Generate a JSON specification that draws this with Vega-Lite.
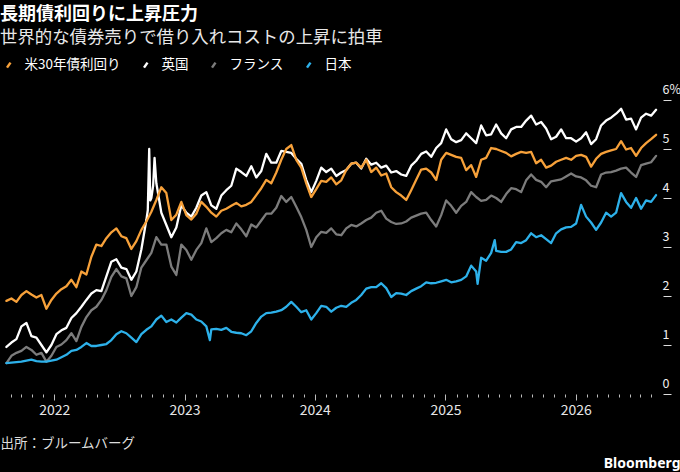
{
  "$schema": "https://vega.github.io/schema/vega-lite/v6.json",
  "width": 660,
  "height": 294,
  "autosize": {"type": "none"},
  "padding": {"left": 0, "top": 100, "right": 20, "bottom": 78},
  "background": "#000000",
  "config": {
    "view": {"stroke": null},
    "font": "Noto Sans CJK JP"
  },
  "title": {
    "text": "長期債利回りに上昇圧力",
    "subtitle": "世界的な債券売りで借り入れコストの上昇に拍車",
    "anchor": "start",
    "frame": "group",
    "font": "Noto Sans CJK JP",
    "fontSize": 18,
    "fontWeight": "bold",
    "color": "#ffffff",
    "subtitleFont": "Noto Sans CJK JP",
    "subtitleFontSize": 17.4,
    "subtitleColor": "#e8e8e8",
    "subtitlePadding": 5,
    "offset": 12
  },
  "data": {
    "values": [
      {"d": "2021-08-20", "us": 1.90, "uk": 0.96, "fr": 0.63, "jp": 0.63},
      {"d": "2021-09-03", "us": 1.95, "uk": 1.05, "fr": 0.78, "jp": 0.64},
      {"d": "2021-09-17", "us": 1.88, "uk": 1.12, "fr": 0.84, "jp": 0.65},
      {"d": "2021-10-01", "us": 2.02, "uk": 1.38, "fr": 0.88, "jp": 0.66},
      {"d": "2021-10-15", "us": 2.10, "uk": 1.45, "fr": 0.96, "jp": 0.68},
      {"d": "2021-10-29", "us": 2.03, "uk": 1.18, "fr": 0.90, "jp": 0.70},
      {"d": "2021-11-12", "us": 1.97, "uk": 1.15, "fr": 0.80, "jp": 0.67},
      {"d": "2021-11-26", "us": 2.02, "uk": 1.00, "fr": 0.84, "jp": 0.66},
      {"d": "2021-12-10", "us": 1.74, "uk": 0.85, "fr": 0.66, "jp": 0.66},
      {"d": "2021-12-24", "us": 1.92, "uk": 1.00, "fr": 0.78, "jp": 0.68},
      {"d": "2022-01-07", "us": 2.05, "uk": 1.22, "fr": 0.96, "jp": 0.70},
      {"d": "2022-01-21", "us": 2.14, "uk": 1.30, "fr": 1.01, "jp": 0.75},
      {"d": "2022-02-04", "us": 2.20, "uk": 1.35, "fr": 1.10, "jp": 0.80},
      {"d": "2022-02-18", "us": 2.33, "uk": 1.55, "fr": 1.24, "jp": 0.88},
      {"d": "2022-03-04", "us": 2.18, "uk": 1.65, "fr": 1.08, "jp": 0.90},
      {"d": "2022-03-18", "us": 2.50, "uk": 1.78, "fr": 1.37, "jp": 0.96},
      {"d": "2022-04-01", "us": 2.44, "uk": 1.92, "fr": 1.57, "jp": 1.04},
      {"d": "2022-04-15", "us": 2.80, "uk": 2.05, "fr": 1.71, "jp": 0.98},
      {"d": "2022-04-29", "us": 3.05, "uk": 2.12, "fr": 1.78, "jp": 0.98},
      {"d": "2022-05-13", "us": 3.02, "uk": 2.10, "fr": 1.92, "jp": 1.00},
      {"d": "2022-05-27", "us": 3.18, "uk": 2.40, "fr": 2.12, "jp": 1.02},
      {"d": "2022-06-10", "us": 3.30, "uk": 2.70, "fr": 2.39, "jp": 1.10},
      {"d": "2022-06-24", "us": 3.38, "uk": 2.75, "fr": 2.55, "jp": 1.22},
      {"d": "2022-07-08", "us": 3.22, "uk": 2.58, "fr": 2.40, "jp": 1.28},
      {"d": "2022-07-22", "us": 3.18, "uk": 2.55, "fr": 2.36, "jp": 1.24},
      {"d": "2022-08-05", "us": 2.96, "uk": 2.33, "fr": 2.00, "jp": 1.15},
      {"d": "2022-08-19", "us": 3.12, "uk": 2.50, "fr": 2.18, "jp": 1.06},
      {"d": "2022-09-02", "us": 3.35, "uk": 2.95, "fr": 2.58, "jp": 1.22},
      {"d": "2022-09-16", "us": 3.52, "uk": 3.55, "fr": 2.73, "jp": 1.31},
      {"d": "2022-09-20", "uk": 3.75},
      {"d": "2022-09-24", "uk": 5.00},
      {"d": "2022-09-27", "uk": 3.95},
      {"d": "2022-09-30", "us": 3.72, "uk": 4.00, "fr": 2.88, "jp": 1.38},
      {"d": "2022-10-05", "uk": 4.25},
      {"d": "2022-10-09", "uk": 4.82},
      {"d": "2022-10-14", "us": 3.96, "uk": 4.30, "fr": 3.20, "jp": 1.52},
      {"d": "2022-10-28", "us": 4.22, "uk": 3.70, "fr": 3.05, "jp": 1.60},
      {"d": "2022-11-11", "us": 4.10, "uk": 3.45, "fr": 3.05, "jp": 1.47},
      {"d": "2022-11-25", "us": 3.55, "uk": 3.20, "fr": 2.60, "jp": 1.52},
      {"d": "2022-12-09", "us": 3.66, "uk": 3.40, "fr": 2.43, "jp": 1.46},
      {"d": "2022-12-23", "us": 3.92, "uk": 3.85, "fr": 3.05, "jp": 1.56},
      {"d": "2023-01-06", "us": 3.65, "uk": 3.70, "fr": 2.94, "jp": 1.65},
      {"d": "2023-01-20", "us": 3.56, "uk": 3.62, "fr": 2.74, "jp": 1.62},
      {"d": "2023-02-03", "us": 3.68, "uk": 3.80, "fr": 2.94, "jp": 1.52},
      {"d": "2023-02-17", "us": 3.92, "uk": 4.05, "fr": 3.08, "jp": 1.48},
      {"d": "2023-03-03", "us": 3.82, "uk": 4.12, "fr": 3.38, "jp": 1.38},
      {"d": "2023-03-13", "jp": 1.10},
      {"d": "2023-03-17", "us": 3.70, "uk": 3.85, "fr": 3.10, "jp": 1.32},
      {"d": "2023-03-31", "us": 3.62, "uk": 3.78, "fr": 3.18, "jp": 1.33},
      {"d": "2023-04-14", "us": 3.74, "uk": 4.05, "fr": 3.28, "jp": 1.31},
      {"d": "2023-04-28", "us": 3.78, "uk": 4.16, "fr": 3.35, "jp": 1.35},
      {"d": "2023-05-12", "us": 3.84, "uk": 4.25, "fr": 3.30, "jp": 1.27},
      {"d": "2023-05-26", "us": 3.90, "uk": 4.60, "fr": 3.48, "jp": 1.25},
      {"d": "2023-06-09", "us": 3.83, "uk": 4.53, "fr": 3.36, "jp": 1.24},
      {"d": "2023-06-23", "us": 3.86, "uk": 4.45, "fr": 3.22, "jp": 1.20},
      {"d": "2023-07-07", "us": 3.92, "uk": 4.65, "fr": 3.46, "jp": 1.28},
      {"d": "2023-07-21", "us": 4.06, "uk": 4.42, "fr": 3.40, "jp": 1.45},
      {"d": "2023-08-04", "us": 4.20, "uk": 4.55, "fr": 3.54, "jp": 1.58},
      {"d": "2023-08-18", "us": 4.37, "uk": 4.90, "fr": 3.68, "jp": 1.65},
      {"d": "2023-09-01", "us": 4.30, "uk": 4.72, "fr": 3.68, "jp": 1.66},
      {"d": "2023-09-15", "us": 4.52, "uk": 4.72, "fr": 3.80, "jp": 1.68},
      {"d": "2023-09-29", "us": 4.78, "uk": 4.96, "fr": 4.04, "jp": 1.71},
      {"d": "2023-10-13", "us": 5.00, "uk": 4.94, "fr": 3.92, "jp": 1.78},
      {"d": "2023-10-27", "us": 5.08, "uk": 4.92, "fr": 4.02, "jp": 1.88},
      {"d": "2023-11-10", "us": 4.78, "uk": 4.80, "fr": 3.82, "jp": 1.78},
      {"d": "2023-11-24", "us": 4.62, "uk": 4.70, "fr": 3.61, "jp": 1.67},
      {"d": "2023-12-08", "us": 4.30, "uk": 4.37, "fr": 3.35, "jp": 1.71},
      {"d": "2023-12-22", "us": 4.02, "uk": 4.12, "fr": 3.00, "jp": 1.52},
      {"d": "2024-01-05", "us": 4.18, "uk": 4.35, "fr": 3.20, "jp": 1.65},
      {"d": "2024-01-19", "us": 4.35, "uk": 4.62, "fr": 3.31, "jp": 1.80},
      {"d": "2024-02-02", "us": 4.33, "uk": 4.53, "fr": 3.29, "jp": 1.78},
      {"d": "2024-02-16", "us": 4.42, "uk": 4.60, "fr": 3.38, "jp": 1.68},
      {"d": "2024-03-01", "us": 4.28, "uk": 4.45, "fr": 3.26, "jp": 1.76},
      {"d": "2024-03-15", "us": 4.36, "uk": 4.52, "fr": 3.24, "jp": 1.80},
      {"d": "2024-03-29", "us": 4.57, "uk": 4.57, "fr": 3.38, "jp": 1.78},
      {"d": "2024-04-12", "us": 4.70, "uk": 4.70, "fr": 3.45, "jp": 1.86},
      {"d": "2024-04-26", "us": 4.72, "uk": 4.72, "fr": 3.42, "jp": 1.92},
      {"d": "2024-05-10", "us": 4.62, "uk": 4.60, "fr": 3.48, "jp": 2.02},
      {"d": "2024-05-24", "us": 4.78, "uk": 4.80, "fr": 3.55, "jp": 2.15},
      {"d": "2024-06-07", "us": 4.53, "uk": 4.68, "fr": 3.60, "jp": 2.18},
      {"d": "2024-06-21", "us": 4.62, "uk": 4.72, "fr": 3.70, "jp": 2.18},
      {"d": "2024-07-05", "us": 4.46, "uk": 4.62, "fr": 3.74, "jp": 2.26},
      {"d": "2024-07-19", "us": 4.50, "uk": 4.66, "fr": 3.58, "jp": 2.16},
      {"d": "2024-08-02", "us": 4.22, "uk": 4.52, "fr": 3.51, "jp": 1.98},
      {"d": "2024-08-16", "us": 4.12, "uk": 4.55, "fr": 3.47, "jp": 2.06},
      {"d": "2024-08-30", "us": 4.05, "uk": 4.48, "fr": 3.48, "jp": 2.05},
      {"d": "2024-09-13", "us": 3.96, "uk": 4.45, "fr": 3.52, "jp": 2.02},
      {"d": "2024-09-27", "us": 4.16, "uk": 4.66, "fr": 3.60, "jp": 2.10},
      {"d": "2024-10-11", "us": 4.37, "uk": 4.76, "fr": 3.64, "jp": 2.15},
      {"d": "2024-10-25", "us": 4.58, "uk": 4.90, "fr": 3.68, "jp": 2.20},
      {"d": "2024-11-08", "us": 4.60, "uk": 4.95, "fr": 3.70, "jp": 2.28},
      {"d": "2024-11-22", "us": 4.52, "uk": 4.84, "fr": 3.55, "jp": 2.26},
      {"d": "2024-12-06", "us": 4.37, "uk": 5.02, "fr": 3.42, "jp": 2.27},
      {"d": "2024-12-20", "us": 4.78, "uk": 5.12, "fr": 3.65, "jp": 2.30},
      {"d": "2025-01-03", "us": 4.92, "uk": 5.40, "fr": 3.95, "jp": 2.33},
      {"d": "2025-01-17", "us": 4.88, "uk": 5.20, "fr": 3.84, "jp": 2.28},
      {"d": "2025-01-31", "us": 4.84, "uk": 5.14, "fr": 3.70, "jp": 2.30},
      {"d": "2025-02-14", "us": 4.82, "uk": 5.18, "fr": 3.84, "jp": 2.33},
      {"d": "2025-02-28", "us": 4.57, "uk": 5.32, "fr": 3.92, "jp": 2.40},
      {"d": "2025-03-14", "us": 4.67, "uk": 5.22, "fr": 4.12, "jp": 2.62},
      {"d": "2025-03-28", "us": 4.43, "uk": 5.12, "fr": 4.02, "jp": 2.50},
      {"d": "2025-04-01", "jp": 2.25},
      {"d": "2025-04-11", "us": 4.78, "uk": 5.48, "fr": 3.94, "jp": 2.78},
      {"d": "2025-04-25", "us": 4.82, "uk": 5.28, "fr": 3.96, "jp": 2.72},
      {"d": "2025-05-09", "us": 5.02, "uk": 5.30, "fr": 4.05, "jp": 2.88},
      {"d": "2025-05-19", "jp": 3.14},
      {"d": "2025-05-23", "us": 5.00, "uk": 5.50, "fr": 4.00, "jp": 2.92},
      {"d": "2025-06-06", "us": 4.96, "uk": 5.32, "fr": 3.92, "jp": 2.90},
      {"d": "2025-06-20", "us": 4.92, "uk": 5.22, "fr": 4.08, "jp": 2.90},
      {"d": "2025-07-04", "us": 4.85, "uk": 5.40, "fr": 4.20, "jp": 2.95},
      {"d": "2025-07-18", "us": 4.90, "uk": 5.45, "fr": 4.18, "jp": 3.10},
      {"d": "2025-08-01", "us": 4.94, "uk": 5.45, "fr": 4.12, "jp": 3.08},
      {"d": "2025-08-15", "us": 4.92, "uk": 5.58, "fr": 4.36, "jp": 3.14},
      {"d": "2025-08-29", "us": 4.94, "uk": 5.68, "fr": 4.48, "jp": 3.28},
      {"d": "2025-09-12", "us": 4.71, "uk": 5.50, "fr": 4.37, "jp": 3.20},
      {"d": "2025-09-26", "us": 4.78, "uk": 5.55, "fr": 4.33, "jp": 3.24},
      {"d": "2025-10-10", "us": 4.62, "uk": 5.42, "fr": 4.22, "jp": 3.16},
      {"d": "2025-10-24", "us": 4.66, "uk": 5.20, "fr": 4.34, "jp": 3.08},
      {"d": "2025-11-07", "us": 4.74, "uk": 5.25, "fr": 4.36, "jp": 3.28},
      {"d": "2025-11-21", "us": 4.78, "uk": 5.40, "fr": 4.38, "jp": 3.36},
      {"d": "2025-12-05", "us": 4.82, "uk": 5.22, "fr": 4.44, "jp": 3.40},
      {"d": "2025-12-19", "us": 4.78, "uk": 5.22, "fr": 4.50, "jp": 3.41},
      {"d": "2026-01-02", "us": 4.86, "uk": 5.15, "fr": 4.44, "jp": 3.48},
      {"d": "2026-01-16", "us": 4.88, "uk": 5.22, "fr": 4.42, "jp": 3.86},
      {"d": "2026-01-30", "us": 4.84, "uk": 5.34, "fr": 4.36, "jp": 3.62},
      {"d": "2026-02-13", "us": 4.64, "uk": 5.10, "fr": 4.25, "jp": 3.50},
      {"d": "2026-02-27", "us": 4.80, "uk": 5.20, "fr": 4.22, "jp": 3.35},
      {"d": "2026-03-13", "us": 4.90, "uk": 5.48, "fr": 4.48, "jp": 3.50},
      {"d": "2026-03-27", "us": 4.94, "uk": 5.58, "fr": 4.52, "jp": 3.70},
      {"d": "2026-04-10", "us": 4.97, "uk": 5.64, "fr": 4.53, "jp": 3.62},
      {"d": "2026-04-24", "us": 5.00, "uk": 5.72, "fr": 4.56, "jp": 3.70},
      {"d": "2026-05-08", "us": 5.16, "uk": 5.82, "fr": 4.60, "jp": 4.10},
      {"d": "2026-05-22", "us": 4.99, "uk": 5.60, "fr": 4.62, "jp": 3.92},
      {"d": "2026-06-05", "us": 5.02, "uk": 5.62, "fr": 4.52, "jp": 3.80},
      {"d": "2026-06-19", "us": 4.86, "uk": 5.40, "fr": 4.43, "jp": 4.00},
      {"d": "2026-07-03", "us": 5.02, "uk": 5.64, "fr": 4.67, "jp": 3.78},
      {"d": "2026-07-17", "us": 5.12, "uk": 5.72, "fr": 4.70, "jp": 3.95},
      {"d": "2026-07-31", "us": 5.20, "uk": 5.68, "fr": 4.73, "jp": 3.92},
      {"d": "2026-08-14", "us": 5.29, "uk": 5.80, "fr": 4.86, "jp": 4.06}
    ]
  },
  "transform": [
    {"fold": ["fr", "uk", "us", "jp"], "as": ["series", "v"]},
    {"filter": "isValid(datum.v)"}
  ],
  "mark": {"type": "line", "strokeWidth": 2.3, "strokeJoin": "round", "strokeCap": "round"},
  "encoding": {
    "x": {
      "field": "d",
      "type": "temporal",
      "scale": {"domain": [{"year": 2021, "month": 8, "date": 2}, {"year": 2026, "month": 8, "date": 25}]},
      "axis": {
        "orient": "bottom",
        "domain": false,
        "grid": false,
        "tickCount": {"interval": "month", "step": 1},
        "tickColor": "#bdbdbd",
        "tickWidth": 1,
        "tickSize": {"condition": {"test": "month(datum.value) == 0", "value": 6}, "value": 3},
        "labelExpr": "month(datum.value) == 0 ? timeFormat(datum.value, '%Y') : ''",
        "labelOverlap": false,
        "labelFlush": false,
        "labelFont": "Noto Sans CJK JP",
        "labelFontSize": 14,
        "labelColor": "#e6e6e6",
        "labelPadding": 3,
        "title": "出所：ブルームバーグ",
        "titleFont": "Noto Sans CJK JP",
        "titleFontSize": 13.5,
        "titleFontWeight": "normal",
        "titleColor": "#dddddd",
        "titleAlign": "left",
        "titleAnchor": "start",
        "titleBaseline": "alphabetic",
        "titleX": 0,
        "titleY": 53
      }
    },
    "y": {
      "field": "v",
      "type": "quantitative",
      "scale": {"domain": [0, 6], "nice": false},
      "axis": {
        "orient": "right",
        "domain": false,
        "grid": false,
        "values": [0, 1, 2, 3, 4, 5, 6],
        "offset": 3,
        "tickSize": 8,
        "tickColor": "#dddddd",
        "labelAlign": "left",
        "labelBaseline": "alphabetic",
        "labelPadding": -9,
        "labelOffset": -7,
        "labelFont": "Noto Sans CJK JP",
        "labelFontSize": 12.5,
        "labelColor": "#f0f0f0",
        "labelExpr": "datum.value == 6 ? '6%' : datum.label",
        "title": "Bloomberg",
        "titleFont": "Noto Sans",
        "titleFontSize": 14,
        "titleFontWeight": "bold",
        "titleColor": "#ffffff",
        "titleAngle": 0,
        "titleAlign": "right",
        "titleBaseline": "alphabetic",
        "titleX": 17,
        "titleY": 367
      }
    },
    "color": {
      "field": "series",
      "type": "nominal",
      "scale": {
        "domain": ["us", "uk", "fr", "jp"],
        "range": ["#f7a13a", "#ffffff", "#7c7c7c", "#2db1ea"]
      },
      "legend": {
        "orient": "none",
        "legendX": 2,
        "legendY": -42,
        "direction": "horizontal",
        "title": null,
        "labelExpr": "datum.label == 'us' ? '米30年債利回り' : datum.label == 'uk' ? '英国' : datum.label == 'fr' ? 'フランス' : '日本'",
        "labelFont": "Noto Sans CJK JP",
        "labelFontSize": 13.5,
        "labelColor": "#ffffff",
        "labelOffset": 9,
        "columnPadding": 18,
        "symbolType": "M-0.35,0.5L0.35,-0.5",
        "symbolSize": 100,
        "symbolStrokeWidth": 2.5
      }
    }
  }
}
